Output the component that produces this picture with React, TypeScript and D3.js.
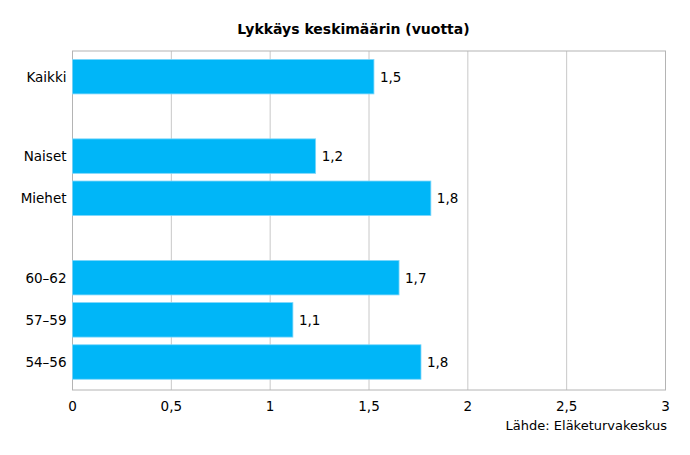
import React from "react";
import * as d3 from "d3";

const categories = ["Kaikki", "", "Naiset", "Miehet", "", "60–62", "57–59", "54–56"];
const values: (number | null)[] = [1.525, null, 1.23, 1.813, null, 1.652, 1.115, 1.763];
const xTicks = [0, 0.5, 1, 1.5, 2, 2.5, 3];
const title = "Lykkäys keskimäärin (vuotta)";
const source = "Lähde: Eläketurvakeskus";

const W = 690, H = 455;
const plot = { left: 72.5, right: 665.5, top: 51, bottom: 390 };
const FONT = "'DejaVu Sans', Verdana, sans-serif";

export default function App() {
  const x = d3.scaleLinear().domain([0, 3]).range([plot.left, plot.right]);

  // labelled rows take 1 unit, blank rows are slightly narrower
  const topPad = 0.109, gapUnit = 0.884, botPad = 0.164;
  const starts: number[] = [];
  let acc = topPad;
  categories.forEach((c) => {
    starts.push(acc);
    acc += c === "" ? gapUnit : 1;
  });
  const total = acc + botPad;
  const y = d3.scaleLinear().domain([0, total]).range([plot.top, plot.bottom]);
  const barFrac = 0.818;
  const fmt = (v: number) => v.toFixed(1).replace(".", ",");

  return (
    <svg width={W} height={H} style={{ position: "absolute", left: 0, top: 0, background: "#fff" }} fontFamily={FONT}>
      <rect x={0} y={0} width={W} height={H} fill="#fff" />
      <text x={353.5} y={34} textAnchor="middle" fontWeight="bold" fontSize={14} fill="#000">
        {title}
      </text>
      {xTicks.map((t) => (
        <line key={"g" + t} x1={x(t)} x2={x(t)} y1={plot.top} y2={plot.bottom} stroke="#c8c8c8" strokeWidth={1} />
      ))}
      <rect x={plot.left} y={plot.top} width={plot.right - plot.left} height={plot.bottom - plot.top} fill="none" stroke="#b4b4b4" strokeWidth={1} />
      {categories.map((c, i) => {
        const v = values[i];
        if (c === "" || v == null) return null;
        const center = y(starts[i] + 0.5);
        const h = y(barFrac) - y(0);
        return (
          <g key={c}>
            <rect x={x(0)} y={center - h / 2} width={x(v) - x(0)} height={h} fill="#00b6f8" stroke="#7dd6fa" strokeWidth={0.8} />
            <text x={plot.left - 6} y={center + 5} textAnchor="end" fontSize={13.5} fill="#000">{c}</text>
            <text x={x(v) + 6} y={center + 5} textAnchor="start" fontSize={13.5} fill="#000">{fmt(v)}</text>
          </g>
        );
      })}
      {xTicks.map((t) => (
        <text key={"t" + t} x={x(t)} y={411} textAnchor="middle" fontSize={13.5} fill="#000">
          {String(t).replace(".", ",")}
        </text>
      ))}
      <text x={667} y={430} textAnchor="end" fontSize={13} fill="#000">{source}</text>
    </svg>
  );
}
